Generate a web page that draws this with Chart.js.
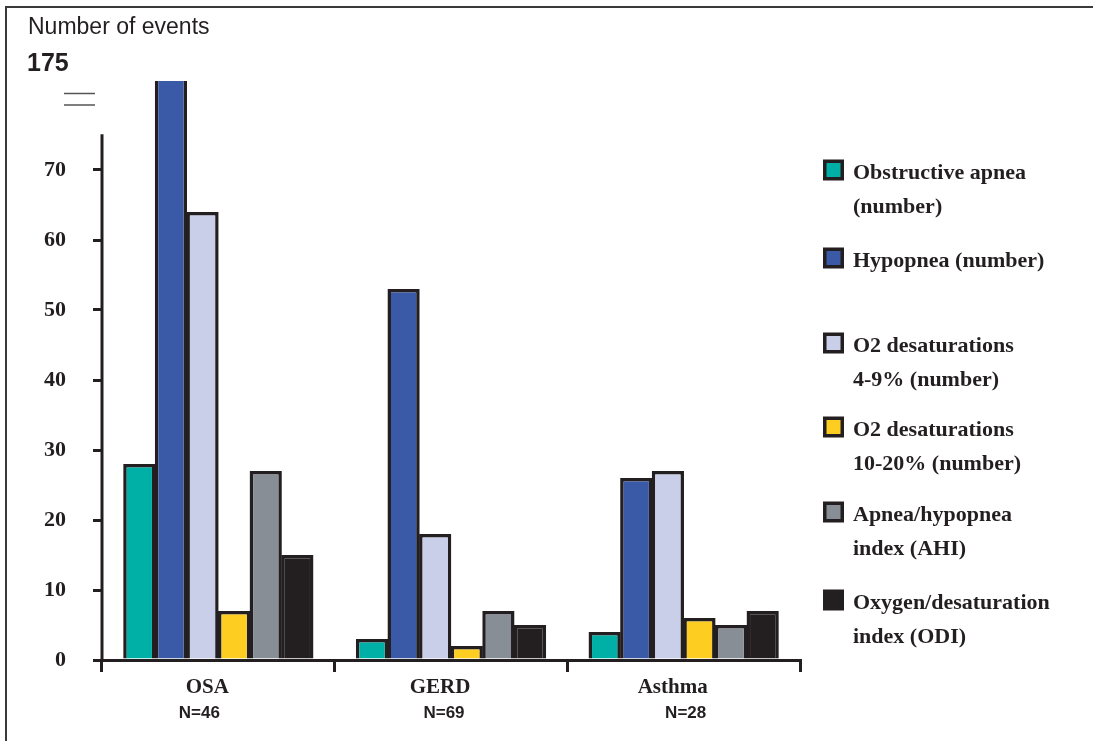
<!DOCTYPE html>
<html>
<head>
<meta charset="utf-8">
<script src="https://cdn.jsdelivr.net/npm/chart.js@4/dist/chart.umd.min.js"></script>
<style>
  html, body { margin: 0; padding: 0; background: #fff; }
  #wrap { width: 1093px; height: 741px; position: relative; }
</style>
</head>
<body>
<div id="wrap"><canvas id="events"></canvas></div>
<script>
// groups along the x axis
const groups = ['OSA', 'GERD', 'Asthma'];
const groupN = ['N=46', 'N=69', 'N=28'];

// one array per series (OSA, GERD, Asthma)
const obstructiveApnea = [28, 3, 4];
const hypopnea = [175, 53, 26];
const desat4to9 = [64, 18, 27];
const desat10to20 = [7, 2, 6];
const ahi = [27, 7, 5];
const odi = [15, 5, 7];

const seriesLines = [
    ['Obstructive apnea', '(number)'],
    ['Hypopnea (number)'],
    ['O2 desaturations', '4-9% (number)'],
    ['O2 desaturations', '10-20% (number)'],
    ['Apnea/hypopnea', 'index (AHI)'],
    ['Oxygen/desaturation', 'index (ODI)']
];
const seriesColors = ['#00AFA5', '#3A5AA8', '#C9CEE9', '#FDCD22', '#878E96', '#231F20'];

// y axis ticks and the broken-axis label
const yTicks = [0, 10, 20, 30, 40, 50, 60, 70];
const brokenTopLabel = '175';
const yTitle = 'Number of events';

const ink = '#231F20';
const serif = "'Liberation Serif', 'Times New Roman', serif";
const sans = "'Liberation Sans', Arial, sans-serif";

const seriesValues = [obstructiveApnea, hypopnea, desat4to9, desat10to20, ahi, odi];

const extras = {
    id: 'extras',
    afterDraw(chart) {
        const ctx = chart.ctx;
        const y = chart.scales.y;
        const x = chart.scales.x;
        ctx.save();

        // frame (top and left only)
        ctx.strokeStyle = '#3a3a3a';
        ctx.lineWidth = 2;
        ctx.beginPath();
        ctx.moveTo(6, 741);
        ctx.lineTo(6, 7);
        ctx.lineTo(1093, 7);
        ctx.stroke();

        // y axis line stops below the break
        ctx.strokeStyle = ink;
        ctx.lineWidth = 3;
        ctx.beginPath();
        ctx.moveTo(chart.chartArea.left, y.getPixelForValue(0) + 1.5);
        ctx.lineTo(chart.chartArea.left, y.getPixelForValue(75.1));
        ctx.stroke();

        // break mark
        ctx.strokeStyle = '#555';
        ctx.lineWidth = 1.5;
        ctx.beginPath();
        ctx.moveTo(64, 93.5); ctx.lineTo(95, 93.5);
        ctx.moveTo(64, 105); ctx.lineTo(95, 105);
        ctx.stroke();

        ctx.fillStyle = ink;
        ctx.textBaseline = 'middle';
        ctx.textAlign = 'left';
        ctx.font = 'bold 25px ' + sans;
        ctx.fillText(brokenTopLabel, 27, 64);
        ctx.font = '23px ' + sans;
        ctx.fillText(yTitle, 28, 28);

        // N under each group
        const nShift = [-19, -7, 2];
        ctx.textAlign = 'center';
        ctx.font = 'bold 17px ' + sans;
        groupN.forEach((t, i) => {
            ctx.fillText(t, x.getPixelForValue(i) + nShift[i], 713);
        });

        // legend on the right
        const firstLineY = [173, 261, 346, 430, 515, 603];
        ctx.textAlign = 'left';
        ctx.font = 'bold 22px ' + serif;
        chart.data.datasets.forEach((ds, i) => {
            const top = firstLineY[i] - 13.5;
            ctx.fillStyle = ink;
            ctx.fillRect(823, top, 21, 21);
            ctx.fillStyle = ds.backgroundColor;
            ctx.fillRect(826.5, top + 3.5, 14, 14);
            ctx.fillStyle = ink;
            seriesLines[i].forEach((line, k) => {
                ctx.fillText(line, 853, firstLineY[i] + k * 34);
            });
        });
        ctx.restore();
    }
};

new Chart(document.getElementById('events'), {
    type: 'bar',
    data: {
        labels: groups,
        datasets: seriesValues.map((vals, i) => ({
            label: seriesLines[i].join(' '),
            data: vals,
            backgroundColor: seriesColors[i],
            borderColor: ink,
            borderWidth: 3.5,
            clip: 0,
            barPercentage: 1.02,
            categoryPercentage: 0.815
        }))
    },
    options: {
        responsive: true,
        maintainAspectRatio: false,
        animation: false,
        layout: { padding: { left: 0, top: 81, right: 293, bottom: 0 } },
        plugins: {
            legend: { display: false },
            tooltip: { enabled: false }
        },
        scales: {
            x: {
                grid: { drawOnChartArea: false, drawTicks: true, tickLength: 12, lineWidth: 3, color: ink, offset: true },
                border: { display: true, width: 3, color: ink },
                ticks: { color: ink, font: { family: serif, weight: 'bold', size: 21 }, padding: 3, labelOffset: -11 },
                afterFit(scale) { scale.height = 81; }
            },
            y: {
                min: 0,
                max: (660 - 81) / 7,
                grid: { drawOnChartArea: false, drawTicks: true, tickLength: 9, lineWidth: 3, color: ink },
                border: { display: false },
                ticks: { color: ink, font: { family: serif, weight: 'bold', size: 22 }, padding: 27 },
                afterBuildTicks(scale) { scale.ticks = yTicks.map(v => ({ value: v })); },
                afterFit(scale) { scale.width = 102; }
            }
        }
    },
    plugins: [extras]
});
</script>
</body>
</html>
